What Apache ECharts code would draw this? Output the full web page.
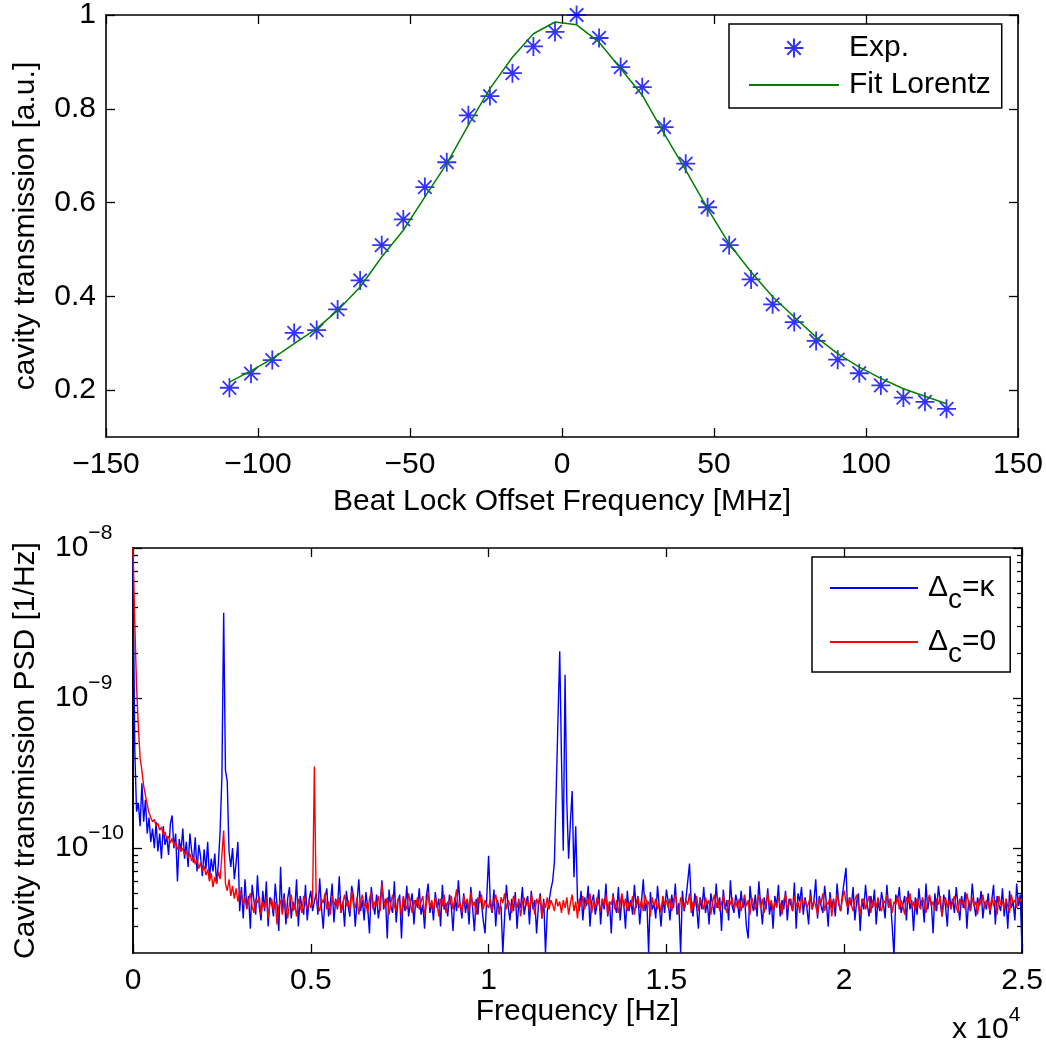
<!DOCTYPE html>
<html><head><meta charset="utf-8">
<script src="https://cdn.jsdelivr.net/npm/echarts@6/dist/echarts.min.js"></script>
<style>html,body{margin:0;padding:0;background:#fff}#c{width:1046px;height:1046px}</style>
</head><body><div id="c"></div>
<script>
// ---------- Top panel: cavity transmission vs beat lock offset ----------
const expFreq = [-109.4,-102.3,-95.3,-88.1,-80.7,-73.8,-66.4,-59.3,-52.2,-45.1,-37.9,-30.8,-23.7,-16.3,-9.4,-2.3,4.8,
  12.2,19.3,26.4,33.6,40.7,47.9,55.0,62.2,69.3,76.4,83.6,90.7,97.8,104.9,112.3,119.4,126.5];
const expVal = [0.205,0.235,0.264,0.322,0.328,0.372,0.434,0.509,0.564,0.633,0.686,0.786,0.827,0.876,0.933,0.964,1.0,
  0.951,0.889,0.846,0.761,0.683,0.590,0.509,0.436,0.383,0.345,0.305,0.265,0.236,0.210,0.184,0.175,0.160];
const fitVal = [0.217,0.241,0.267,0.299,0.331,0.370,0.420,0.484,0.541,0.612,0.683,0.765,0.843,0.910,0.960,0.985,0.979,
  0.942,0.886,0.829,0.747,0.669,0.587,0.512,0.452,0.399,0.356,0.313,0.278,0.249,0.225,0.203,0.187,0.171];
const topYTicks = [0.2,0.4,0.6,0.8,1];

// ---------- Bottom panel: PSD, values in units of 1e-12 1/Hz, sampled every 50 Hz from 0 Hz ----------
const psdStepHz = 50;
const psdUnit = 1e-12;
const psdBlue = [
9000,450,175,200,140,270,150,210,125,160,
110,135,100,150,95,125,85,140,105,120,
90,145,165,100,125,60,115,95,135,85,
110,75,125,95,80,118,70,105,88,65,
98,72,110,62,85,70,92,58,78,130,
300,3700,330,280,95,75,100,62,80,110,
38,55,34,62,40,48,29,57,45,36,
66,41,33,52,38,60,30,47,43,35,
58,42,28,75,37,50,31,46,55,34,
44,39,62,30,48,41,36,57,33,45,
52,38,44,50,36,63,40,29,47,54,
35,43,58,32,46,39,65,37,44,30,
52,41,35,56,48,30,44,62,38,45,
33,51,40,27,55,43,36,49,34,42,
61,39,46,25,53,41,37,60,32,44,
49,25,47,38,56,35,43,50,31,45,
40,54,36,42,29,48,58,37,44,33,
51,40,46,30,57,39,43,35,49,41,
28,47,38,61,42,34,50,37,45,31,
55,40,28,46,36,52,43,33,27,48,
89,42,37,53,30,45,39,41,20,35,
57,41,33,46,38,51,29,44,40,55,
36,43,48,31,52,39,45,27,41,50,
34,46,20,38,44,53,60,80,82,700,
2050,390,96,1430,200,85,150,240,64,140,
45,38,52,33,47,41,56,30,44,49,
36,42,53,31,46,39,58,35,44,27,
50,41,37,55,33,47,43,29,52,38,
45,36,57,40,48,31,44,62,38,45,
20,51,39,43,34,56,41,30,47,37,
53,44,33,49,40,58,36,43,20,52,
38,46,60,79,42,35,50,41,29,47,
39,55,37,44,31,50,42,36,58,40,
47,28,53,39,45,33,61,41,37,49,
43,34,52,40,46,30,25,56,43,38,
49,35,60,42,31,47,39,54,36,44,
29,48,41,57,35,45,39,52,33,46,
42,38,59,29,50,44,55,36,47,40,
31,53,39,45,62,34,48,41,37,56,
43,30,51,40,46,35,58,42,38,49,
60,74,36,47,41,55,33,44,50,28,
46,39,57,42,35,48,40,53,31,45,
38,51,43,34,57,40,46,30,19,49,
44,55,37,42,48,33,52,39,45,28,
47,36,54,41,45,32,58,39,47,43,
27,50,38,56,44,35,49,41,30,53,
40,46,37,55,42,33,48,40,51,29,
45,38,58,43,35,47,41,52,34,44,
39,50,36,45,57,31,48,42,38,54,
35,46,29,52,40,44,33,58,41,49,
21];
const psdRed = [
10000,3200,1200,650,400,330,260,225,195,172,
160,150,155,140,146,132,138,122,128,115,
120,108,116,104,110,98,104,95,100,90,
97,86,92,82,88,78,84,73,80,70,
76,66,72,60,68,55,64,58,70,62,
90,131,58,52,62,48,56,46,54,44,
52,49,42,47,39,45,50,41,37,46,
43,48,36,44,40,47,34,42,46,38,
44,31,41,45,36,47,40,34,43,49,
38,42,35,46,41,37,48,43,39,45,
40,44,350,47,41,38,46,43,50,39,
44,36,48,42,45,40,47,37,43,49,
41,45,38,52,42,40,47,36,44,49,
41,43,37,46,51,39,44,42,48,38,
58,45,40,47,36,43,49,41,38,46,
44,35,48,42,39,50,43,37,45,41,
47,39,44,48,36,42,51,40,45,38,
47,43,35,46,41,49,37,44,42,48,
39,45,53,40,43,37,48,42,46,38,
51,41,44,36,47,43,49,39,45,42,
40,46,38,44,49,41,36,47,43,50,
39,45,42,37,48,44,40,46,35,43,
47,41,45,38,49,43,36,46,42,48,
34,44,40,47,39,45,42,38,46,41,
44,37,45,40,47,36,43,49,38,44,
34,46,41,48,39,45,42,50,37,44,
40,47,43,38,46,41,49,36,44,42,
48,39,45,37,43,50,40,46,38,44,
41,48,36,43,47,40,45,38,49,42,
44,35,47,41,46,39,43,37,48,42,
45,40,46,38,44,49,41,36,47,43,
39,45,42,50,37,44,41,48,38,46,
43,39,47,42,45,36,44,49,40,46,
38,43,48,41,37,45,42,47,39,44,
40,46,38,43,49,41,45,36,47,42,
39,44,48,40,46,37,43,50,41,45,
38,44,40,47,42,36,45,49,39,43,
46,38,48,41,44,37,47,42,45,40,
43,48,39,45,41,36,46,43,50,38,
44,42,47,35,45,40,49,43,38,46,
52,44,40,47,42,38,45,49,41,36,
44,46,39,43,48,37,45,42,40,47,
41,38,45,43,49,40,46,37,44,42,
48,39,45,41,36,47,43,50,40,44,
38,46,42,39,47,43,37,45,49,41,
44,38,46,42,48,35,43,47,40,45,
39,44,48,41,37,46,42,45,39,50,
43,38,47,41,44,36,46,42,49,40,
45,43,38,47,41,45,36,48,42,44,
39,46,41,37,49,43,45,40,47,44,
46];
const botYMajor = [1e-10, 1e-9, 1e-8];
const botYMinor = [];
[-11, -10, -9].forEach(function (e) {
  for (let k = 2; k <= 9; k++) { const v = k * Math.pow(10, e); if (v > 2.01e-11 && v < 1e-8) botYMinor.push(v); }
});

const F = 'Liberation Sans, Arial, Helvetica, sans-serif';
const BLACK = '#000';
const axisLine = { show: true, onZero: false, lineStyle: { color: BLACK, width: 1.6 } };
const tick = (len, extra) => Object.assign({ show: true, inside: true, length: len, lineStyle: { color: BLACK, width: 1.3 } }, extra || {});
const label = (extra) => Object.assign({ fontSize: 30, fontFamily: F, color: BLACK }, extra || {});
const nameStyle = { fontSize: 30, fontFamily: F, color: BLACK };
const minusFix = v => String(v).replace('-', '\u2212');
const supRich = {
  b: { fontSize: 30, fontFamily: F, color: BLACK, lineHeight: 30, verticalAlign: 'middle' },
  s: { fontSize: 21, fontFamily: F, color: BLACK, lineHeight: 21, padding: [0, 0, 30, 0], verticalAlign: 'middle' }
};
const expLabel = v => '{b|10}{s|\u2212' + Math.round(-Math.log10(v)) + '}';
const noMarker = { opacity: 0 };

const chart = echarts.init(document.getElementById('c'), null, { renderer: 'canvas' });
chart.setOption({
  animation: false,
  backgroundColor: '#fff',
  grid: [
    { left: 106, top: 15, width: 912, height: 422 },
    { left: 133, top: 548, width: 889, height: 405 }
  ],
  xAxis: [
    { type: 'value', gridIndex: 0, position: 'bottom', min: -150, max: 150, interval: 50,
      axisLine, axisTick: tick(9), splitLine: { show: false },
      axisLabel: label({ margin: 13, formatter: minusFix }),
      name: 'Beat Lock Offset Frequency [MHz]', nameLocation: 'middle', nameGap: 50, nameTextStyle: nameStyle },
    { type: 'value', gridIndex: 0, position: 'top', min: -150, max: 150, interval: 50,
      axisLine, axisTick: tick(9), splitLine: { show: false }, axisLabel: { show: false } },
    { type: 'value', gridIndex: 1, position: 'bottom', min: 0, max: 25000, interval: 5000,
      axisLine, axisTick: tick(9), splitLine: { show: false },
      axisLabel: label({ margin: 13, formatter: v => String(v / 10000) }),
      name: 'Frequency [Hz]', nameLocation: 'middle', nameGap: 31, nameTextStyle: nameStyle },
    { type: 'value', gridIndex: 1, position: 'top', min: 0, max: 25000, interval: 5000,
      axisLine, axisTick: tick(9), splitLine: { show: false }, axisLabel: { show: false } }
  ],
  yAxis: [
    { type: 'value', gridIndex: 0, position: 'left', min: 0.1, max: 1,
      axisLine, axisTick: tick(9, { customValues: topYTicks }), splitLine: { show: false },
      axisLabel: label({ margin: 10, customValues: topYTicks, formatter: v => String(v) }),
      name: 'cavity transmission [a.u.]', nameLocation: 'middle', nameGap: 65, nameTextStyle: nameStyle },
    { type: 'value', gridIndex: 0, position: 'right', min: 0.1, max: 1,
      axisLine, axisTick: tick(9, { customValues: topYTicks }), splitLine: { show: false }, axisLabel: { show: false } },
    { type: 'log', logBase: 10, gridIndex: 1, position: 'left', min: 2e-11, max: 1e-8,
      axisLine, axisTick: tick(9, { customValues: botYMajor }), splitLine: { show: false },
      axisLabel: { show: true, customValues: botYMajor, margin: 78, align: 'left', formatter: expLabel, rich: supRich },
      name: 'Cavity transmission PSD [1/Hz]', nameLocation: 'middle', nameGap: 92, nameTextStyle: nameStyle },
    { type: 'log', logBase: 10, gridIndex: 1, position: 'left', min: 2e-11, max: 1e-8,
      axisLine, axisTick: tick(5, { customValues: botYMinor }), splitLine: { show: false }, axisLabel: { show: false } },
    { type: 'log', logBase: 10, gridIndex: 1, position: 'right', min: 2e-11, max: 1e-8,
      axisLine, axisTick: tick(9, { customValues: botYMajor }), splitLine: { show: false }, axisLabel: { show: false } },
    { type: 'log', logBase: 10, gridIndex: 1, position: 'right', min: 2e-11, max: 1e-8,
      axisLine, axisTick: tick(5, { customValues: botYMinor }), splitLine: { show: false }, axisLabel: { show: false } }
  ],
  legend: [
    { data: ['Exp.', { name: 'Fit Lorentz', itemStyle: noMarker }], orient: 'vertical', left: 729, top: 24, selectedMode: false,
      itemWidth: 90, itemHeight: 19, itemGap: 7, padding: [9, 11, 8, 19],
      borderColor: BLACK, borderWidth: 1.5, backgroundColor: '#fff',
      textStyle: { fontSize: 30, fontFamily: F, color: BLACK, padding: [0, 0, 0, 5] } },
    { data: [{ name: '\u0394c=\u03ba', itemStyle: noMarker }, { name: '\u0394c=0', itemStyle: noMarker }],
      orient: 'vertical', left: 812, top: 557, selectedMode: false,
      itemWidth: 88, itemHeight: 14, itemGap: 2, padding: [5, 14, 4, 17],
      borderColor: BLACK, borderWidth: 1.5, backgroundColor: '#fff',
      formatter: name => '{a|\u0394}{c|c}{a|' + name.slice(2) + '}',
      textStyle: { fontSize: 30, fontFamily: F, color: BLACK, padding: [0, 0, 0, 5],
        rich: {
          a: { fontSize: 30, fontFamily: F, color: BLACK, lineHeight: 30, verticalAlign: 'middle' },
          c: { fontSize: 28, fontFamily: F, color: BLACK, lineHeight: 28, padding: [24, 0, 0, 0], verticalAlign: 'middle' }
        } } }
  ],
  graphic: [
    { type: 'text', x: 952, y: 1030,
      style: { text: '{b|x 10}{s|4}', rich: supRich, align: 'left', verticalAlign: 'middle' } }
  ],
  series: [
    { name: 'Exp.', type: 'scatter', xAxisIndex: 0, yAxisIndex: 0,
      data: expFreq.map((f, i) => [f, expVal[i]]),
      symbol: 'path://M0,-10L0,10M-10,0L10,0M-7.1,-7.1L7.1,7.1M-7.1,7.1L7.1,-7.1', symbolSize: 19,
      itemStyle: { color: 'none', borderColor: '#0000ff', borderWidth: 1.8 } },
    { name: 'Fit Lorentz', type: 'line', xAxisIndex: 0, yAxisIndex: 0,
      data: expFreq.map((f, i) => [f, fitVal[i]]),
      symbol: 'none', lineStyle: { color: '#008000', width: 1.5 }, itemStyle: { color: '#008000' } },
    { name: '\u0394c=\u03ba', type: 'line', xAxisIndex: 2, yAxisIndex: 2,
      data: psdBlue.map((v, i) => [i * psdStepHz, v * psdUnit]),
      symbol: 'none', lineStyle: { color: '#0000ff', width: 1.4 }, itemStyle: { color: '#0000ff' } },
    { name: '\u0394c=0', type: 'line', xAxisIndex: 2, yAxisIndex: 2,
      data: psdRed.map((v, i) => [i * psdStepHz, v * psdUnit]),
      symbol: 'none', lineStyle: { color: '#ff0000', width: 1.4 }, itemStyle: { color: '#ff0000' } }
  ]
});
</script></body></html>
